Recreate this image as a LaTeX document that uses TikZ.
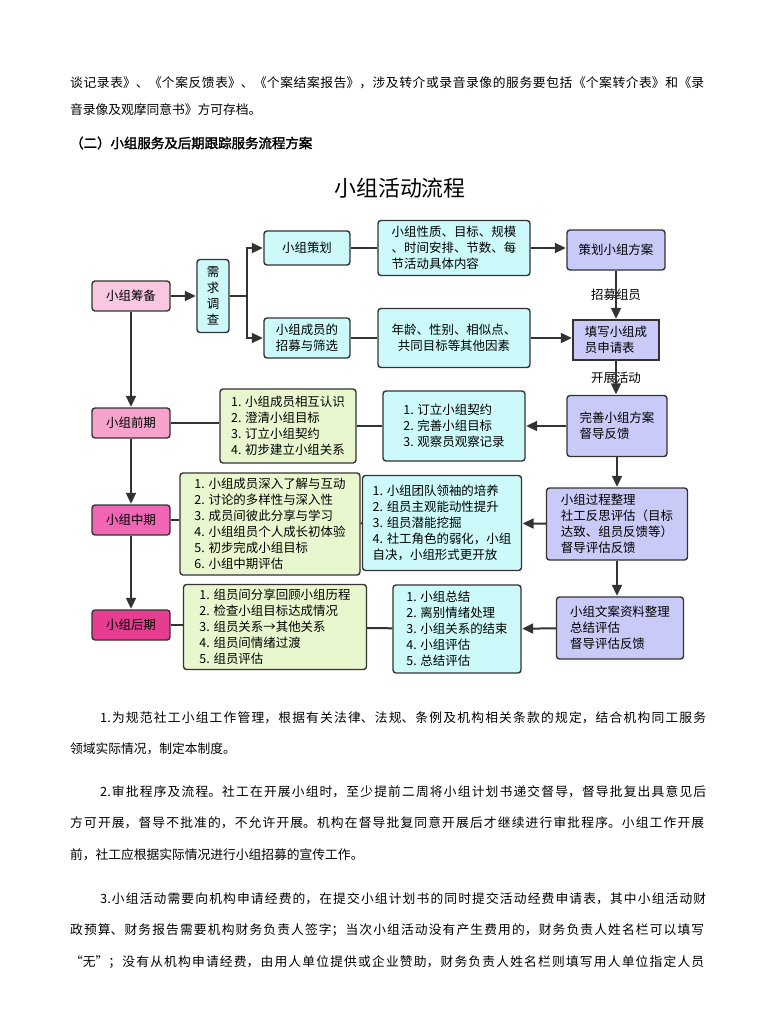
\documentclass[tikz,border=0pt]{standalone}
\usepackage{fontspec}
\setmainfont{Noto Sans CJK SC}
\newfontfamily\cjk{Noto Sans CJK SC}
\newfontfamily\cjkbold[AutoFakeBold=2]{Noto Sans CJK SC}
\usepackage{xcolor}
\usepackage{tikz}
\usetikzlibrary{arrows.meta}
\XeTeXlinebreaklocale "zh"
\XeTeXlinebreakskip=0pt plus 3pt
\definecolor{linegray}{HTML}{333333}
\definecolor{cyanfill}{HTML}{CCFAFA}
\definecolor{greenfill}{HTML}{E9F7CF}
\definecolor{lavfill}{HTML}{CACAF8}
\definecolor{pinkA}{HTML}{F9C8E0}
\definecolor{pinkB}{HTML}{F5A3CD}
\definecolor{pinkC}{HTML}{F066B5}
\definecolor{pinkD}{HTML}{E63D93}
\newcommand{\bodyfont}{\cjk\fontsize{12.8}{15}\selectfont}
\newcommand{\boxfont}{\cjk\fontsize{12.5}{16}\selectfont}
\newcommand{\fullpar}[1]{\noindent\parfillskip=0pt\relax #1\par}

\begin{document}
\begin{tikzpicture}[x=1bp,y=-1bp,>={Triangle[length=11bp,width=10bp]},
    box/.style={draw=linegray,line width=1.4bp,rounded corners=3bp,inner sep=3bp,font=\boxfont,align=left},
    stage/.style={box,minimum width=78bp,minimum height=30bp,align=center},
    link/.style={draw=linegray,line width=2bp},
    arrow/.style={link,->,shorten >=0.5pt},
    flow label/.style={font=\boxfont,inner sep=1pt},
    line full/.style={anchor=west,inner sep=0pt,text width=634bp,align=justify,font=\bodyfont},
    line indent/.style={line full,text width=606bp},
    line short/.style={anchor=west,inner sep=0pt,font=\bodyfont}]
  \useasboundingbox (0,0) rectangle (778,1018);

  % text above
  \node[line full] (t1) at (70,83) {\fullpar{谈记录表》、《个案反馈表》、《个案结案报告》，涉及转介或录音录像的服务要包括《个案转介表》和《录}};
  \node[line short] (t2) at (70,110) {音录像及观摩同意书》方可存档。};
  \node[line short,font=\cjkbold\bfseries\fontsize{13.5}{16}\selectfont] (head) at (70,143) {（二）小组服务及后期跟踪服务流程方案};

  \node[font=\cjk\fontsize{22}{26}\selectfont] (title) at (400,188) {小组活动流程};

  % preparation
  \node[stage,fill=pinkA] (prep) at (131,296) {小组筹备};
  \node[box,fill=cyanfill,minimum width=32bp,minimum height=73bp,align=center] (need) at (213,296) {需\\求\\调\\查};
  \node[box,fill=cyanfill,minimum width=86bp,minimum height=34bp,align=center] (plan) at (307,248) {小组策划};
  \node[box,fill=cyanfill,minimum width=86bp,minimum height=40bp,align=center] (recruit) at (307,338) {小组成员的\\招募与筛选};
  \node[box,fill=cyanfill,minimum width=152bp,minimum height=55bp] (planitems) at (454,248) {小组性质、目标、规模\\、时间安排、节数、每\\节活动具体内容};
  \node[box,fill=cyanfill,minimum width=152bp,minimum height=59bp,align=center] (factors) at (454,338) {年龄、性别、相似点、\\共同目标等其他因素};
  \node[box,fill=lavfill,minimum width=98bp,minimum height=40bp,align=center] (scheme) at (616,250) {策划小组方案};
  \node[box,fill=lavfill,sharp corners,minimum width=86bp,minimum height=40bp] (apply) at (616,340) {填写小组成\\员申请表};

  % early stage
  \node[box,fill=lavfill,minimum width=100bp,minimum height=61bp] (improve) at (617,426) {完善小组方案\\督导反馈};
  \node[box,fill=cyanfill,minimum width=142bp,minimum height=70bp] (preitems) at (454,426) {1. 订立小组契约\\2. 完善小组目标\\3. 观察员观察记录};
  \node[stage,fill=pinkB] (pre) at (131,423) {小组前期};
  \node[box,fill=greenfill,minimum width=136bp,minimum height=74bp] (pregoals) at (288,426) {1. 小组成员相互认识\\2. 澄清小组目标\\3. 订立小组契约\\4. 初步建立小组关系};

  % middle stage
  \node[stage,fill=pinkC] (mid) at (131,520) {小组中期};
  \node[box,fill=greenfill,minimum width=180bp,minimum height=102bp] (midgoals) at (270,524) {1. 小组成员深入了解与互动\\2. 讨论的多样性与深入性\\3. 成员间彼此分享与学习\\4. 小组组员个人成长初体验\\5. 初步完成小组目标\\6. 小组中期评估};
  \node[box,fill=cyanfill,minimum width=159bp,minimum height=95bp] (miditems) at (442,523) {1. 小组团队领袖的培养\\2. 组员主观能动性提升\\3. 组员潜能挖掘\\4. 社工角色的弱化，小组\\自决，小组形式更开放};
  \node[box,fill=lavfill,minimum width=141bp,minimum height=72bp] (review) at (617,524) {小组过程整理\\社工反思评估（目标\\达致、组员反馈等）\\督导评估反馈};

  % late stage
  \node[stage,fill=pinkD] (post) at (131,625) {小组后期};
  \node[box,fill=greenfill,minimum width=183bp,minimum height=85bp] (postgoals) at (275,627) {1. 组员间分享回顾小组历程\\2. 检查小组目标达成情况\\3. 组员关系→其他关系\\4. 组员间情绪过渡\\5. 组员评估};
  \node[box,fill=cyanfill,minimum width=128bp,minimum height=88bp] (postitems) at (457,629) {1. 小组总结\\2. 离别情绪处理\\3. 小组关系的结束\\4. 小组评估\\5. 总结评估};
  \node[box,fill=lavfill,minimum width=127bp,minimum height=62bp] (archive) at (620,628) {小组文案资料整理\\总结评估\\督导评估反馈};

  % connectors
  \coordinate (fork) at (247,296);
  \draw[arrow] (prep) -- (need);
  \draw[link] (need) -- (fork);
  \draw[arrow] (fork) |- (plan);
  \draw[arrow] (fork) |- (recruit);
  \draw[link] (plan) -- (planitems);
  \draw[link] (recruit) -- (factors);
  \draw[arrow] (planitems.east) -- (planitems.east -| scheme.west);
  \draw[arrow] (factors.east) -- (factors.east -| apply.west);
  \draw[arrow] (scheme) -- node[flow label] {招募组员} (apply);
  \draw[arrow] (apply.south) -- node[flow label] {开展活动} (apply.south |- improve.north);
  \draw[arrow] (improve) -- (preitems);
  \draw[link] (preitems) -- (pregoals);
  \draw[link] (pre.east) -- (pre.east -| pregoals.west);
  \draw[arrow] (improve) -- (review);
  \draw[arrow] (review) -- (miditems);
  \draw[link] (miditems) -- (midgoals);
  \draw[link] (mid.east) -- (mid.east -| midgoals.west);
  \draw[arrow] (review.south) -- (review.south |- archive.north);
  \draw[arrow] (archive) -- (postitems);
  \draw[link] (postitems) -- (postgoals);
  \draw[link] (post.east) -- (post.east -| postgoals.west);
  \draw[arrow] (prep) -- (pre);
  \draw[arrow] (pre) -- (mid);
  \draw[arrow] (mid) -- (post);

  % text below
  \node[line indent] (p1a) at (100,718) {\fullpar{1.为规范社工小组工作管理，根据有关法律、法规、条例及机构相关条款的规定，结合机构同工服务}};
  \node[line short] (p1b) at (70,749) {领域实际情况，制定本制度。};
  \node[line indent] (p2a) at (100,792) {\fullpar{2.审批程序及流程。社工在开展小组时，至少提前二周将小组计划书递交督导，督导批复出具意见后}};
  \node[line full] (p2b) at (70,823) {\fullpar{方可开展，督导不批准的，不允许开展。机构在督导批复同意开展后才继续进行审批程序。小组工作开展}};
  \node[line short] (p2c) at (70,855) {前，社工应根据实际情况进行小组招募的宣传工作。};
  \node[line indent] (p3a) at (100,899) {\fullpar{3.小组活动需要向机构申请经费的，在提交小组计划书的同时提交活动经费申请表，其中小组活动财}};
  \node[line full] (p3b) at (70,930) {\fullpar{政预算、财务报告需要机构财务负责人签字；当次小组活动没有产生费用的，财务负责人姓名栏可以填写}};
  \node[line full] (p3c) at (70,962) {\fullpar{“无”；没有从机构申请经费，由用人单位提供或企业赞助，财务负责人姓名栏则填写用人单位指定人员}};
\end{tikzpicture}
\end{document}
